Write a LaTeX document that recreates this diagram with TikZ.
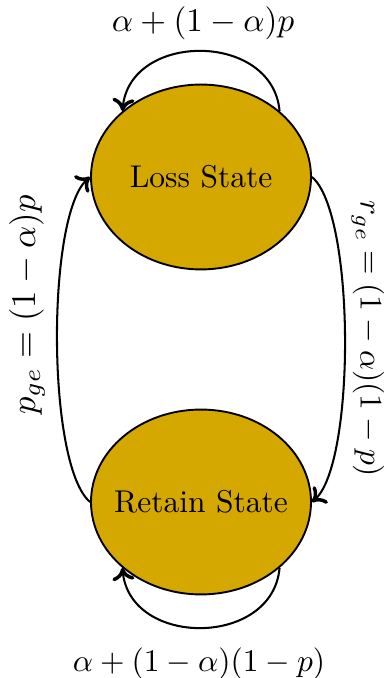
\documentclass[tikz,border=0pt]{standalone}
\usetikzlibrary{shapes.geometric,arrows.meta}
\definecolor{gold}{RGB}{213,168,0}
\begin{document}
\begin{tikzpicture}[x=0.3175pt,y=0.3175pt,
  state/.style={ellipse,draw=black,fill=gold,line width=0.6pt,inner sep=0pt,
    minimum width=69.85pt,minimum height=58.7pt},
  arr/.style={line width=0.65pt,-{To[length=4pt,width=7pt,line width=1.1pt]}}]
\useasboundingbox (0,0) rectangle (388,678);
\node[state] (L) at (201,501) {\makebox[0pt]{Loss State}};
\node[state] (R) at (201,176) {\makebox[0pt]{Retain State}};
\draw[arr] (L.east) to[out=-40,in=40,looseness=0.45] (R.east);
\draw[arr] (R.west) to[out=140,in=-140,looseness=0.45] (L.west);
\draw[arr] (L.40) .. controls +(95:80) and +(85:80) .. (L.140);
\draw[arr] (R.-40) .. controls +(-95:80) and +(-85:80) .. (R.-140);
\node[scale=1.05] (tl) at (203,654.5) {$\alpha+(1-\alpha)p$};
\node (bl) at (199,14.5) {$\alpha+(1-\alpha)(1-p)$};
\node[rotate=90,scale=1.1] (ll) at (27,373) {$p_{ge}=(1-\alpha)p$};
\node[rotate=-90] (rl) at (368,339) {$r_{ge}=(1-\alpha)(1-p)$};
\end{tikzpicture}
\end{document}
